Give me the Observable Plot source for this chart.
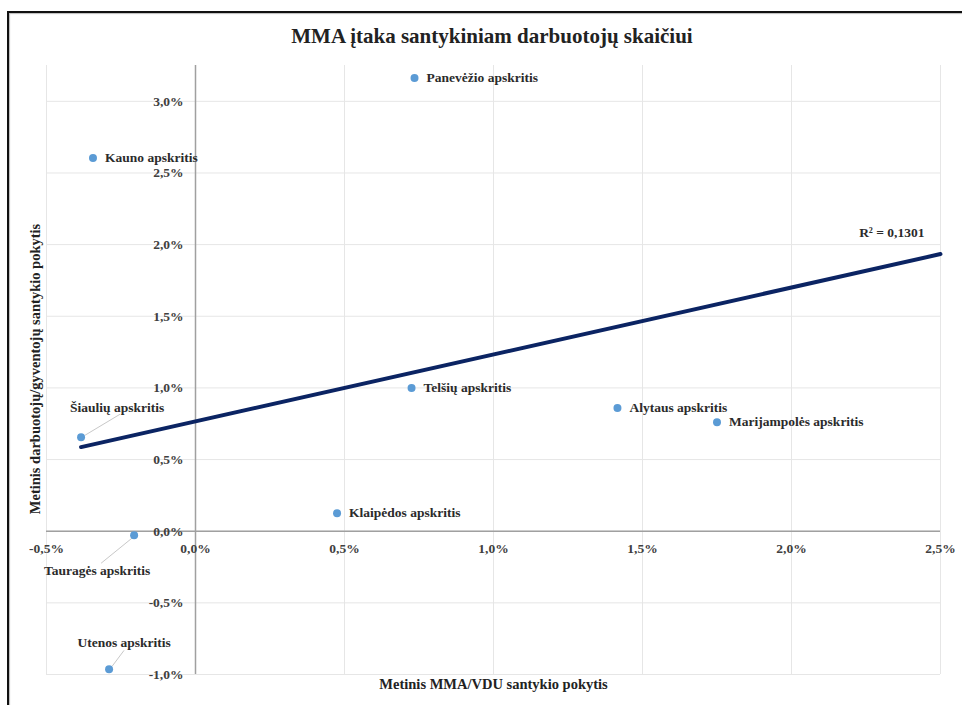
<!DOCTYPE html>
<html>
<head>
<meta charset="utf-8">
<script src="https://cdn.jsdelivr.net/npm/d3@7"></script>
<script src="https://cdn.jsdelivr.net/npm/@observablehq/plot@0.6"></script>
<style>
  html, body { margin: 0; padding: 0; background: #fff; overflow: hidden; width: 962px; height: 705px; }
  #frame { position: absolute; left: 7px; top: 11px; width: 1000px; height: 1000px; border-left: 2px solid #111; border-top: 2px solid #111; box-shadow: inset 1px 1px 1px #bbb; }
  #title { position: absolute; left: 0; width: 984px; top: 24px; text-align: center; font-family: "Liberation Serif", serif; font-weight: bold; font-size: 21px; color: #222; }
  #chart { position: absolute; left: 0; top: 0; }
</style>
</head>
<body>
<div id="frame"></div>
<div id="title">MMA įtaka santykiniam darbuotojų skaičiui</div>
<div id="chart"></div>
<script>
// ---- data ----
const regions = ["Panevėžio apskritis", "Kauno apskritis", "Šiaulių apskritis", "Tauragės apskritis", "Utenos apskritis", "Klaipėdos apskritis", "Telšių apskritis", "Alytaus apskritis", "Marijampolės apskritis"];
const mmaChange = [0.00735, -0.00344, -0.00384, -0.00206, -0.00290, 0.00475, 0.00725, 0.01416, 0.01750];
const workerChange = [0.03163, 0.02605, 0.00656, -0.00028, -0.00964, 0.00126, 0.00999, 0.00859, 0.00761];
const trendX = [-0.00384, 0.0250];
const trendY = [0.00587, 0.01934];
const rSquaredLabel = "R² = 0,1301";
const xTicks = [-0.005, 0, 0.005, 0.01, 0.015, 0.02, 0.025];
const yTicks = [-0.01, -0.005, 0, 0.005, 0.01, 0.015, 0.02, 0.025, 0.03];
const xTitle = "Metinis MMA/VDU santykio pokytis";
const yTitle = "Metinis darbuotojų/gyventojų santykio pokytis";

// ---- layout (label placement, pixels) ----
const labelLayout = {
  "Šiaulių apskritis": {dx: 36, dy: -30, anchor: "middle", leader: [4, -2, 39, -23]},
  "Tauragės apskritis": {dx: -37, dy: 35, anchor: "middle", leader: [-1, 2, -33, 28]},
  "Utenos apskritis": {dx: 15, dy: -27, anchor: "middle", leader: [3, -3, 15, -19]}
};

const W = 962, H = 705;
const mL = 46, mR = 22, mT = 65, mB = 31;
const xDom = [-0.005, 0.025], yDom = [-0.01, 0.0325];
const kx = (W - mL - mR) / (xDom[1] - xDom[0]);
const ky = (H - mT - mB) / (yDom[1] - yDom[0]);

const points = regions.map((r, i) => ({name: r, x: mmaChange[i], y: workerChange[i]}));
const normal = points.filter(d => !labelLayout[d.name]);
const special = points.filter(d => labelLayout[d.name]).map(d => ({...d, ...labelLayout[d.name]}));
const leaders = special.map(d => ({
  x1: d.x + d.leader[0] / kx, y1: d.y - d.leader[1] / ky,
  x2: d.x + d.leader[2] / kx, y2: d.y - d.leader[3] / ky
}));
const trend = trendX.map((x, i) => ({x, y: trendY[i]}));
const fmt = v => (v * 100).toFixed(1).replace(".", ",") + "%";
const font = "Liberation Serif";

const chart = Plot.plot({
  width: W, height: H,
  marginLeft: mL, marginRight: mR, marginTop: mT, marginBottom: mB,
  style: {background: "transparent", fontFamily: font, overflow: "visible"},
  x: {domain: xDom, axis: null},
  y: {domain: yDom, axis: null},
  marks: [
    Plot.ruleX(xTicks, {stroke: "#e6e6e6", strokeWidth: 1, strokeOpacity: 1}),
    Plot.ruleY(yTicks, {stroke: "#e6e6e6", strokeWidth: 1, strokeOpacity: 1}),
    Plot.ruleX([0], {stroke: "#a0a0a0", strokeWidth: 1.5}),
    Plot.ruleY([0], {stroke: "#a0a0a0", strokeWidth: 1.5}),
    Plot.text(yTicks, {x: 0, y: d => d, text: d => fmt(d), dx: -12, textAnchor: "end", fontSize: 13.5, fontWeight: "bold", fill: "#404040"}),
    Plot.text(xTicks, {x: d => d, y: 0, text: d => fmt(d), dy: 17, textAnchor: "middle", fontSize: 13.5, fontWeight: "bold", fill: "#404040"}),
    Plot.link(leaders, {x1: "x1", y1: "y1", x2: "x2", y2: "y2", stroke: "#c8c8c8", strokeWidth: 1}),
    Plot.line(trend, {x: "x", y: "y", stroke: "#0b2463", strokeWidth: 4}),
    Plot.dot(points, {x: "x", y: "y", r: 4, fill: "#5b9bd5", stroke: "none"}),
    Plot.text(normal, {x: "x", y: "y", text: "name", dx: 12, textAnchor: "start", fontSize: 13.5, fontWeight: "bold", fill: "#2b2b2b"}),
    ...special.map(d => Plot.text([d], {x: "x", y: "y", text: "name", dx: d.dx, dy: d.dy, textAnchor: d.anchor, fontSize: 13.5, fontWeight: "bold", fill: "#2b2b2b"})),
    Plot.text([trend[trend.length - 1]], {x: "x", y: "y", text: () => rSquaredLabel, dx: -16, dy: -21, textAnchor: "end", fontSize: 13.5, fontWeight: "bold", fill: "#2b2b2b"}),
    Plot.text([xTitle], {frameAnchor: "bottom", text: d => d, dy: 14, fontSize: 14.5, fontWeight: "bold", fill: "#222", x: null}),
  ]
});
document.getElementById("chart").appendChild(chart);

// y-axis title as real text inside the svg
const svg = d3.select(chart);
svg.append("text")
  .attr("transform", `translate(37, 369) rotate(-90)`)
  .attr("text-anchor", "middle")
  .attr("dominant-baseline", "middle")
  .attr("font-family", font)
  .attr("font-weight", "bold")
  .attr("font-size", 14.5)
  .attr("fill", "#222")
  .text(yTitle);
</script>
</body>
</html>
